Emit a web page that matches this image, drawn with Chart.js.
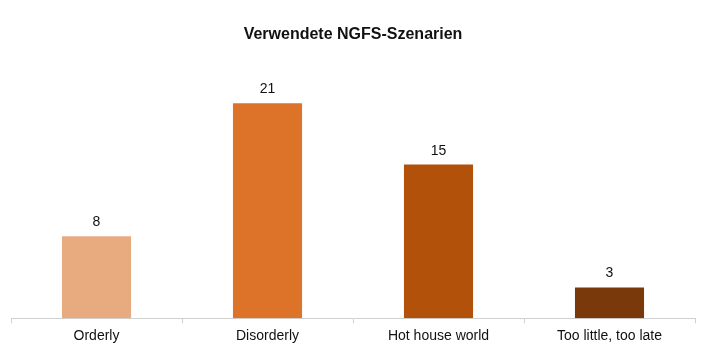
<!DOCTYPE html>
<html>
<head>
<meta charset="utf-8">
<script src="https://cdn.jsdelivr.net/npm/chart.js@4"></script>
<style>
html,body{margin:0;padding:0;background:#fff;}
#wrap{width:701px;height:350px;}
</style>
</head>
<body>
<div id="wrap"><canvas id="c" width="701" height="350"></canvas></div>
<script>
const categories = ["Orderly", "Disorderly", "Hot house world", "Too little, too late"];
const counts = [8, 21, 15, 3];
const barColors = ["#E8AB80", "#DD7229", "#B2520A", "#7A390B"];
const chartTitle = "Verwendete NGFS-Szenarien";

const valueLabels = {
  id: "valueLabels",
  afterDatasetsDraw(chart) {
    const ctx = chart.ctx;
    const meta = chart.getDatasetMeta(0);
    ctx.save();
    ctx.font = "14px 'Liberation Sans', Arial, sans-serif";
    ctx.fillStyle = "#111";
    ctx.textAlign = "center";
    ctx.textBaseline = "alphabetic";
    meta.data.forEach((bar, i) => {
      ctx.fillText(String(counts[i]), bar.x, bar.y - 10);
    });
    ctx.restore();
  }
};

new Chart(document.getElementById("c"), {
  type: "bar",
  data: {
    labels: categories,
    datasets: [{
      data: counts,
      backgroundColor: barColors,
      borderWidth: 0,
      categoryPercentage: 1,
      barPercentage: 0.404
    }]
  },
  options: {
    responsive: false,
    animation: false,
    devicePixelRatio: 1,
    layout: { padding: { left: 11, right: 6, top: 0, bottom: 0 } },
    plugins: {
      legend: { display: false },
      tooltip: { enabled: false },
      title: {
        display: true,
        text: chartTitle,
        color: "#111",
        font: { family: "'Liberation Sans', Arial, sans-serif", size: 16, weight: "bold" },
        padding: { top: 25, bottom: 18 }
      }
    },
    scales: {
      x: {
        offset: true,
        grid: {
          offset: true,
          drawOnChartArea: false,
          drawTicks: true,
          tickLength: 5,
          color: "#D0D0D0"
        },
        border: { display: true, color: "#D0D0D0", width: 1 },
        ticks: {
          color: "#111",
          padding: 5,
          font: { family: "'Liberation Sans', Arial, sans-serif", size: 14 }
        }
      },
      y: {
        display: false,
        min: 0,
        max: 25
      }
    }
  },
  plugins: [valueLabels]
});
</script>
</body>
</html>
